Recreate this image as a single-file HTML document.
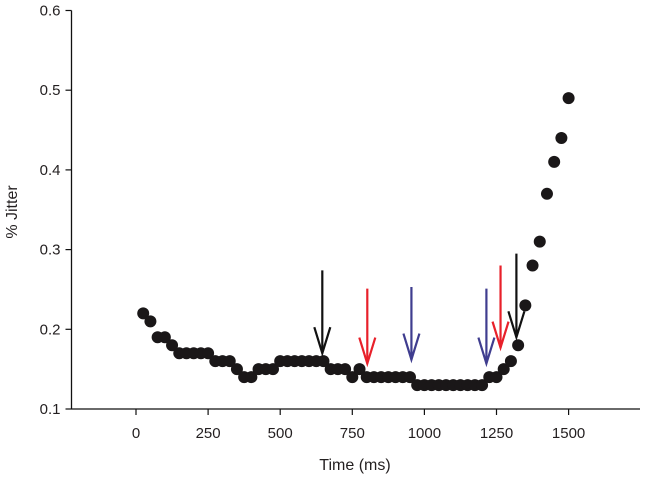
<!DOCTYPE html>
<html><head><meta charset="utf-8"><style>
body{margin:0;background:#fff}
svg text{font-family:"Liberation Sans",Arial,sans-serif;fill:#231f20}
</style></head><body>
<svg width="645" height="480" id="chart">
<g id="axes"></g><g id="marks"></g><g id="arrows"></g>
</svg>
<script>
const timesMs=[25,50,75,100,125,150,175,200,225,250,275,300,325,350,375,400,425,450,475,500,525,550,575,600,625,650,675,700,725,750,775,800,825,850,875,900,925,950,975,1000,1025,1050,1075,1100,1125,1150,1175,1200,1225,1250,1275,1300,1325,1350,1375,1400,1425,1450,1475,1500];
const jitter=[.22,.21,.19,.19,.18,.17,.17,.17,.17,.17,.16,.16,.16,.15,.14,.14,.15,.15,.15,.16,.16,.16,.16,.16,.16,.16,.15,.15,.15,.14,.15,.14,.14,.14,.14,.14,.14,.14,.13,.13,.13,.13,.13,.13,.13,.13,.13,.13,.14,.14,.15,.16,.18,.23,.28,.31,.37,.41,.44,.49];
const xTicks=[0,250,500,750,1000,1250,1500];
const yTicks=[0.1,0.2,0.3,0.4,0.5,0.6];
const arrowX=[646,802,955,1215,1264,1319];
const arrowTop=[0.274,0.251,0.253,0.251,0.28,0.295];
const arrowTip=[0.17,0.157,0.162,0.157,0.177,0.19];
const arrowColor=["#111","#e8202a","#3f3d8f","#3f3d8f","#e8202a","#111"];
const NS="http://www.w3.org/2000/svg";
const X0=71.5,X1=640,Y0=409,Y1=10.5;
const x=v=>136+(v)*0.2884;
const y=v=>Y0-(v-0.1)/0.5*(Y0-Y1);
function mk(t,a,p){const e=document.createElementNS(NS,t);for(const k in a)e.setAttribute(k,a[k]);p.appendChild(e);return e;}
const ax=document.getElementById('axes'),mg=document.getElementById('marks'),ag=document.getElementById('arrows');
let l=mk('line',{x1:X0,y1:Y1,x2:X0,y2:Y0,stroke:'#111','stroke-width':1.3},ax);

l=mk('line',{x1:X0,y1:Y0,x2:X1,y2:Y0,stroke:'#111','stroke-width':1.3},ax);

yTicks.forEach(v=>{mk('line',{x1:X0-6,x2:X0,y1:y(v),y2:y(v),stroke:'#111','stroke-width':1.2},ax);
const t=mk('text',{x:X0-11,y:y(v)+5,'text-anchor':'end','font-size':15},ax);t.textContent=v.toFixed(1);
});
xTicks.forEach(v=>{mk('line',{x1:x(v),x2:x(v),y1:Y0,y2:Y0+6,stroke:'#111','stroke-width':1.2},ax);
const t=mk('text',{x:x(v),y:Y0+29,'text-anchor':'middle','font-size':15},ax);t.textContent=v;
});
let t=mk('text',{x:355,y:470,'text-anchor':'middle','font-size':16},ax);t.textContent='Time (ms)';

t=mk('text',{x:0,y:0,'text-anchor':'middle','font-size':16,transform:'translate(17,212) rotate(-90)'},ax);t.textContent='% Jitter';

timesMs.forEach((m,i)=>{const c=mk('circle',{cx:x(m),cy:y(jitter[i]),r:6,fill:'#1a1718'},mg);
});
arrowX.forEach((m,i)=>{const g=mk('g',{stroke:arrowColor[i],'stroke-width':2.2,fill:'none'},ag);

const ax_=x(m),yt=y(arrowTop[i]),yb=y(arrowTip[i]);
mk('line',{x1:ax_,y1:yt,x2:ax_,y2:yb},g);
mk('polyline',{points:`${ax_-8},${yb-26} ${ax_},${yb} ${ax_+8},${yb-26}`},g);});
</script>
</body></html>
